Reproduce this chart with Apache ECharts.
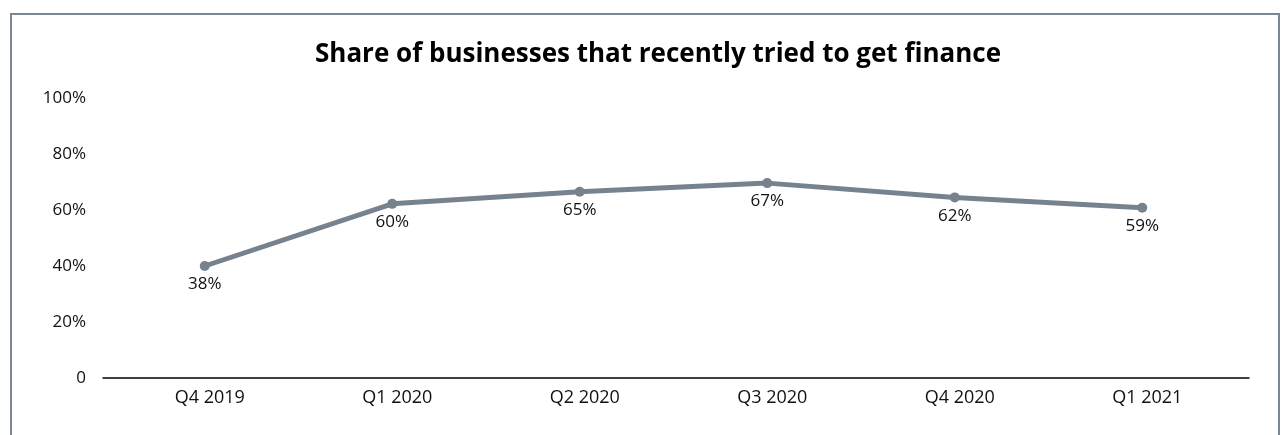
<!DOCTYPE html>
<html>
<head>
<meta charset="utf-8">
<script src="https://cdn.jsdelivr.net/npm/echarts@6/dist/echarts.min.js"></script>
<style>
html,body{margin:0;padding:0;background:#fff;}
#frame{position:absolute;left:10px;top:13px;width:1266px;height:440px;border:2px solid #7b8894;}
#chart{position:absolute;left:0;top:0;width:1281px;height:435px;}
</style>
</head>
<body>
<div id="frame"></div>
<div id="chart"></div>
<script>
const titleText = 'Share of businesses that recently tried to get finance';
const categories = ['Q4 2019', 'Q1 2020', 'Q2 2020', 'Q3 2020', 'Q4 2020', 'Q1 2021'];
const values = [40, 62.2, 66.5, 69.6, 64.5, 60.8];
const labelTexts = ['38%', '60%', '65%', '67%', '62%', '59%'];
const yTicks = [0, 20, 40, 60, 80, 100];

const font = '"Open Sans", "Noto Sans", sans-serif';
const chart = echarts.init(document.getElementById('chart'), null, {renderer: 'canvas'});
chart.setOption({
  animation: false,
  backgroundColor: 'transparent',
  title: {
    text: titleText,
    left: 653, top: 37, textAlign: 'center',
    textStyle: {fontFamily: font, fontWeight: 'bold', fontSize: 26, color: '#000'}
  },
  grid: [
    {left: 111, right: 45, top: 98, bottom: 57},
    {left: 103, right: 32, top: 98, bottom: 57}
  ],
  xAxis: [
    {
      type: 'category', gridIndex: 0, data: categories, boundaryGap: true,
      axisLine: {show: false}, axisTick: {show: false},
      axisLabel: {fontFamily: font, fontSize: 18, color: '#111', margin: 11, padding: [0, 0, 0, 10]}
    },
    {
      type: 'category', gridIndex: 1, data: categories,
      axisLine: {show: true, lineStyle: {color: '#000', width: 1.5}},
      axisTick: {show: false}, axisLabel: {show: false}
    }
  ],
  yAxis: [
    {
      type: 'value', gridIndex: 0, min: yTicks[0], max: yTicks[yTicks.length - 1], interval: 20,
      axisLine: {show: false}, axisTick: {show: false}, splitLine: {show: false},
      axisLabel: {fontFamily: font, fontSize: 17, color: '#111', margin: 25,
        formatter: v => v === 0 ? '0' : v + '%'}
    },
    {
      type: 'value', gridIndex: 1, min: 0, max: 100, show: false
    }
  ],
  series: [{
    type: 'line', xAxisIndex: 0, yAxisIndex: 0,
    data: values,
    symbol: 'circle', symbolSize: 10,
    lineStyle: {color: '#76838f', width: 5},
    itemStyle: {color: '#76838f'},
    label: {
      show: true, position: 'bottom', distance: 5,
      fontFamily: font, fontSize: 17, color: '#111',
      formatter: p => labelTexts[p.dataIndex]
    }
  }]
});
</script>
</body>
</html>
